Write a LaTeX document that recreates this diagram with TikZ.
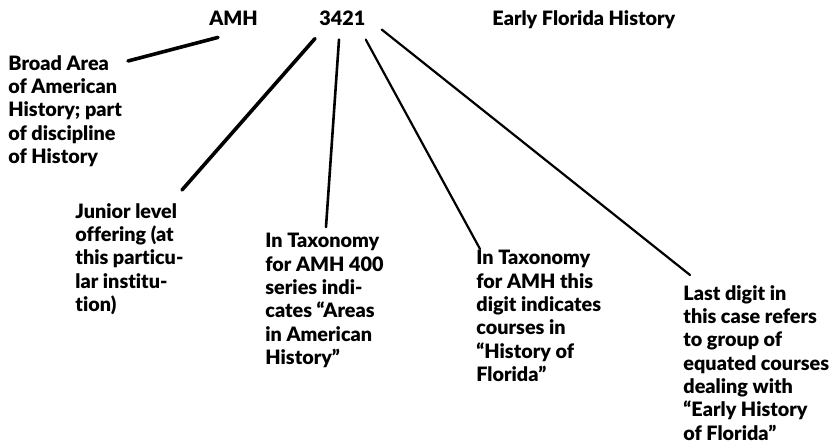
\documentclass[tikz,border=0pt]{standalone}
\usepackage{fontspec}
\setmainfont{Lato}[Ligatures=NoCommon, BoldFont={* Black}]
\usetikzlibrary{calc}

\begin{document}
\begin{tikzpicture}[x=0.5pt, y=-0.5pt,
  note/.style={inner sep=0pt, anchor=#1, align=left, font=\bfseries\fontsize{9.9}{11.65}\selectfont},
  link/.style={line width=#1, line cap=round}]
  \useasboundingbox (0,0) rectangle (840,444);
  \node[note=base west] (amh) at (209,26) {AMH};
  \node[note=base west] (num) at (319,26) {3421};
  \node[note=base west] (title) at (492,26) {Early Florida History};
  \node[note=north west] (broad) at (8,55) {Broad Area\\of American\\History; part\\of discipline\\of History};
  \node[note=north west] (junior) at (75,203) {Junior level\\offering (at\\this particu-\\lar institu-\\tion)};
  \node[note=north west] (areas) at (265,233) {In Taxonomy\\for AMH 400\\series indi-\\cates “Areas\\in American\\History”};
  \node[note=north west] (florida) at (476,250) {In Taxonomy\\for AMH this\\digit indicates\\courses in\\“History of\\Florida”};
  \node[note=north west] (last) at (683,285) {Last digit in\\this case refers\\to group of\\equated courses\\dealing with\\“Early History\\of Florida”};
  \draw[link=1.8pt] ($(amh.south west)+(9,11)$) -- ($(broad.north west)+(120,6)$);
  \draw[link=1.8pt] ($(num.south west)+(-4,12)$) -- ($(junior.north west)+(107,-13)$);
  \draw[link=1.3pt] ($(num.south west)+(20,13)$) -- ($(areas.north west)+(61,-6)$);
  \draw[link=1.1pt] ($(num.south east)+(0,13)$) -- ($(florida.north west)+(4,-1)$);
  \draw[link=1.1pt] ($(num.south east)+(16,3)$) -- ($(last.north west)+(7,-10)$);
\end{tikzpicture}
\end{document}
